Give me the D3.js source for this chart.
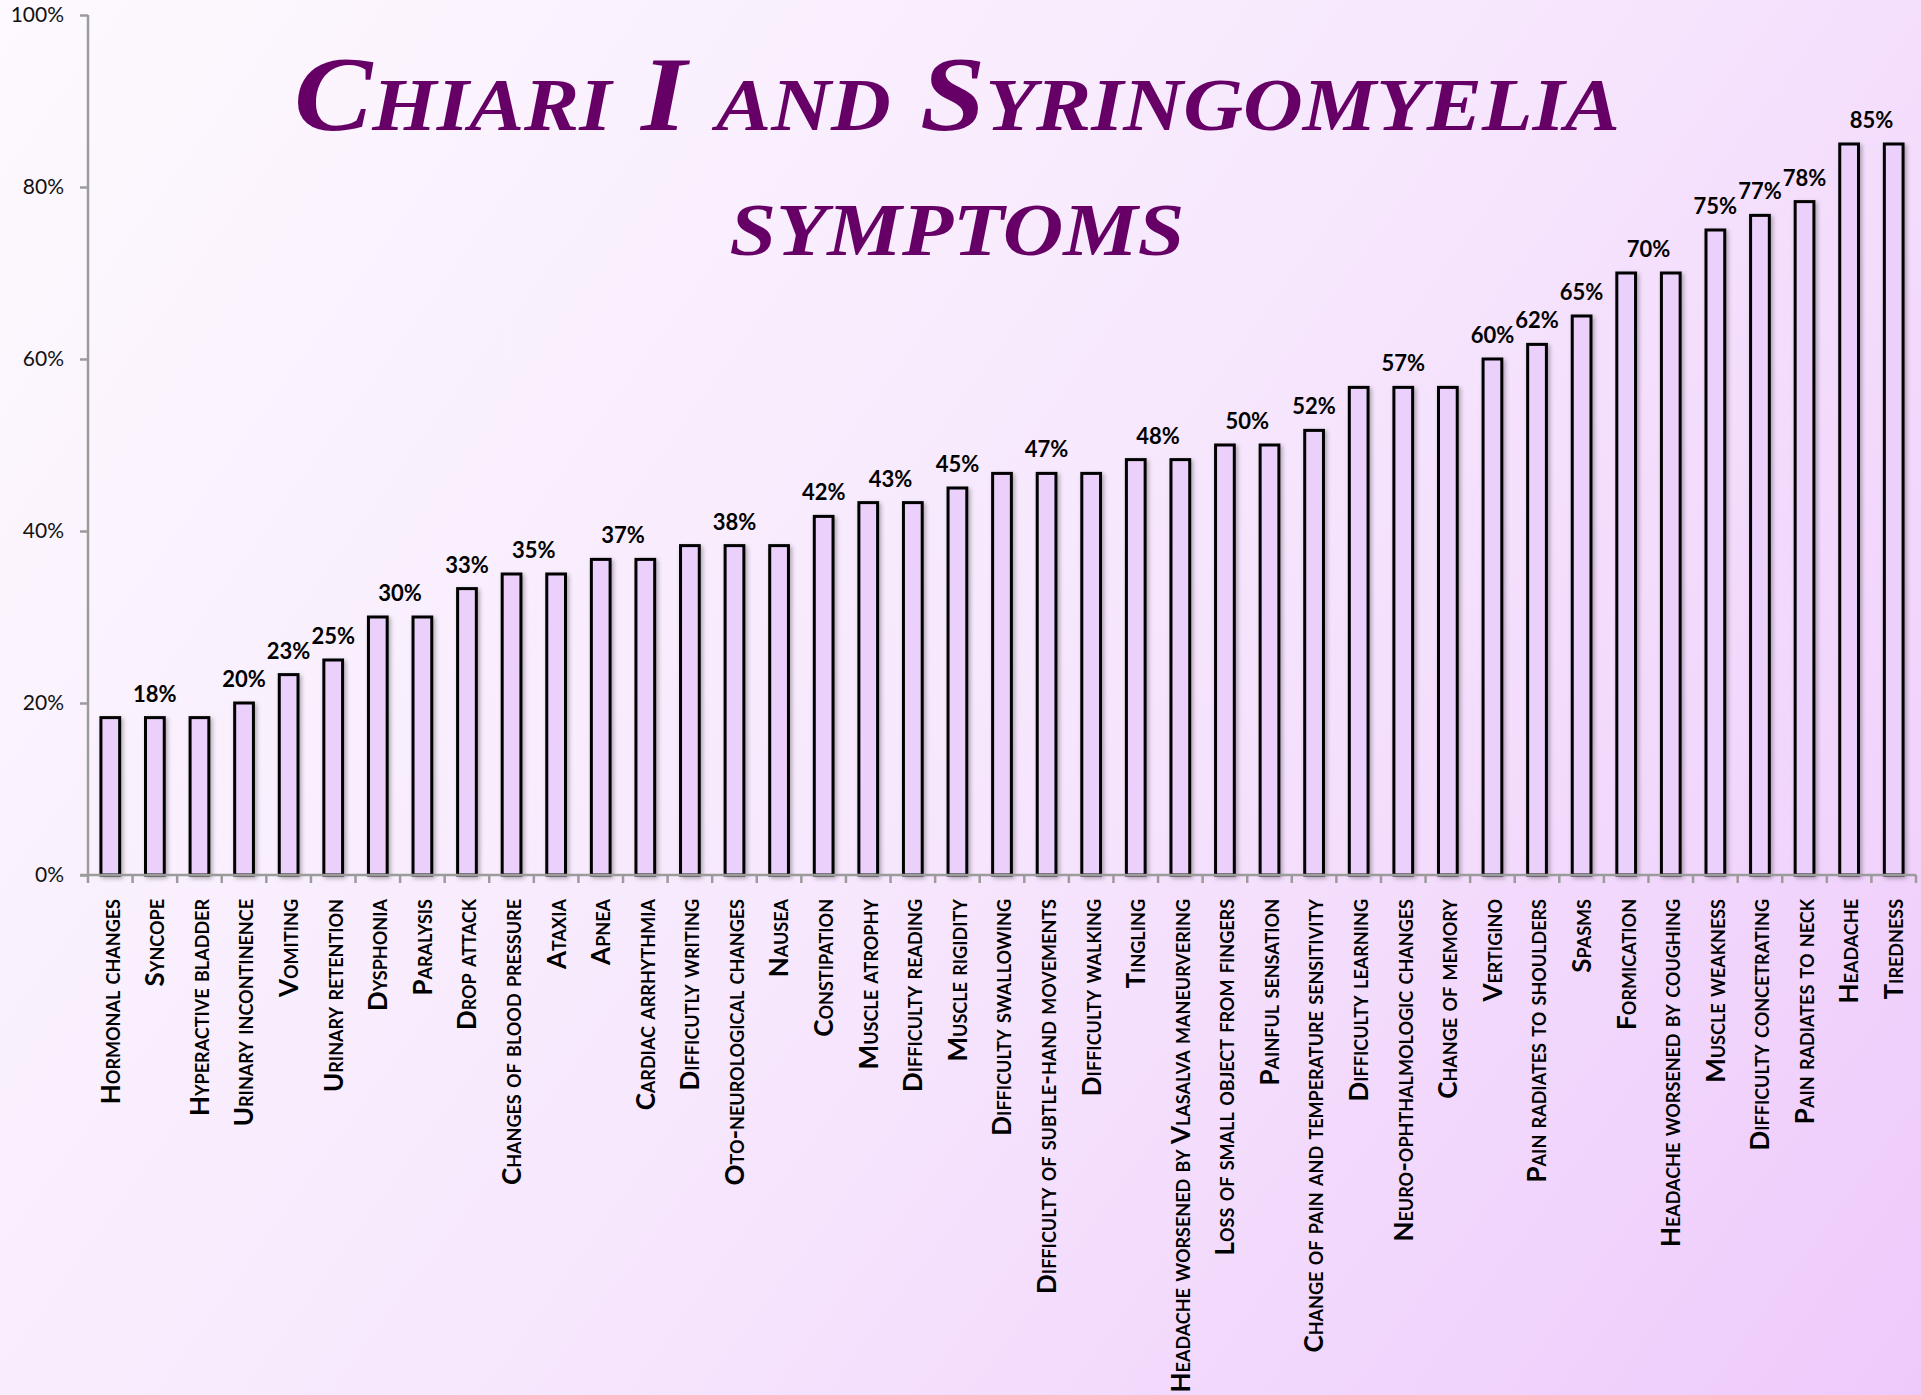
<!DOCTYPE html>
<meta charset="utf-8">
<style>
  body { margin: 0; }
  svg { display: block; }
</style>
<body>
<svg id="chart" width="1921" height="1395"></svg>
<script src="https://d3js.org/d3.v7.min.js"></script>
<script>
// chart data
const categories = [
  "Hormonal changes", "Syncope", "Hyperactive bladder", "Urinary incontinence",
  "Vomiting", "Urinary retention", "Dysphonia", "Paralysis", "Drop attack",
  "Changes of blood pressure", "Ataxia", "Apnea", "Cardiac arrhythmia",
  "Difficutly writing", "Oto-neurological changes", "Nausea", "Constipation",
  "Muscle atrophy", "Difficulty reading", "Muscle rigidity", "Difficulty swallowing",
  "Difficulty of subtle-hand movements", "Difficulty walking", "Tingling",
  "Headache worsened by Vlasalva maneurvering", "Loss of small object from fingers",
  "Painful sensation", "Change of pain and temperature sensitivity",
  "Difficulty learning", "Neuro-ophthalmologic changes", "Change of memory",
  "Vertigino", "Pain radiates to shoulders", "Spasms", "Formication",
  "Headache worsened by coughing", "Muscle weakness", "Difficulty concetrating",
  "Pain radiates to neck", "Headache", "Tiredness"
];
const values = [
  18.3, 18.3, 18.3, 20.0, 23.3, 25.0, 30.0, 30.0, 33.3, 35.0, 35.0, 36.7, 36.7,
  38.3, 38.3, 38.3, 41.7, 43.3, 43.3, 45.0, 46.7, 46.7, 46.7, 48.3, 48.3, 50.0,
  50.0, 51.7, 56.7, 56.7, 56.7, 60.0, 61.7, 65.0, 70.0, 70.0, 75.0, 76.7, 78.3,
  85.0, 85.0
];
const yTicks = [0, 20, 40, 60, 80, 100];
const titleLines = ["Chiari I and Syringomyelia", "symptoms"];

// layout
var W = 1921, H = 1395;
var margin = {left: 88, right: 1916, top: 15, bottom: 875};

var svg = d3.select("#chart");
var defs = svg.append("defs");

// background gradient
var grad = defs.append("linearGradient")
    .attr("id", "bg")
    .attr("gradientUnits", "userSpaceOnUse")
    .attr("x1", 0).attr("y1", 0).attr("x2", W).attr("y2", H);
grad.append("stop").attr("offset", 0).attr("stop-color", "#fdf9fe");
grad.append("stop").attr("offset", 0.5).attr("stop-color", "#f7e8fd");
grad.append("stop").attr("offset", 1).attr("stop-color", "#eecafb");

var shadow = defs.append("filter").attr("id", "shadow")
    .attr("x", "-50%").attr("y", "-5%").attr("width", "200%").attr("height", "110%");
shadow.append("feDropShadow")
    .attr("dx", 2).attr("dy", 2).attr("stdDeviation", 2)
    .attr("flood-color", "#000").attr("flood-opacity", 0.3);

svg.append("rect").attr("width", W).attr("height", H).attr("fill", "url(#bg)");

// scales
var x = d3.scaleBand()
    .domain(categories)
    .range([margin.left, margin.right])
    .paddingInner(0.58)
    .paddingOuter(0.29);

var y = d3.scaleLinear()
    .domain([0, 100])
    .range([margin.bottom, margin.top]);

var step = x.step();

// y axis
var yAxis = svg.append("g")
    .attr("transform", "translate(" + margin.left + ",0)")
    .call(d3.axisLeft(y).tickValues(yTicks).tickSize(8).tickPadding(16)
      .tickFormat(d => d + "%"));
yAxis.selectAll("path, line").attr("stroke", "#9b9b9b").attr("stroke-width", 2.5);
yAxis.select(".domain").attr("d", "M0," + (margin.bottom + 1) + "V" + margin.top);
yAxis.selectAll("text")
    .attr("fill", "#111")
    .style("font-family", "Lato, sans-serif")
    .style("font-size", "21px");

// bars
svg.append("g")
  .selectAll("rect")
  .data(values)
  .enter()
  .append("rect")
    .attr("x", (d, i) => x(categories[i]))
    .attr("y", d => y(d))
    .attr("width", x.bandwidth())
    .attr("height", d => y(0) - y(d))
    .attr("fill", "#ecd0fc")
    .attr("stroke", "#000")
    .attr("stroke-width", 3)
    .attr("filter", "url(#shadow)");

// x axis line and ticks at category boundaries
var xAxis = svg.append("g");
xAxis.append("line")
    .attr("x1", margin.left - 8).attr("x2", margin.right)
    .attr("y1", margin.bottom).attr("y2", margin.bottom)
    .attr("stroke", "#9b9b9b").attr("stroke-width", 2.5);
xAxis.selectAll(".tick")
  .data(d3.range(categories.length + 1))
  .enter()
  .append("line")
    .attr("x1", i => margin.left + i * step).attr("x2", i => margin.left + i * step)
    .attr("y1", margin.bottom).attr("y2", margin.bottom + 8)
    .attr("stroke", "#9b9b9b").attr("stroke-width", 2.5);

// category labels
svg.append("g")
  .selectAll("text")
  .data(categories)
  .enter()
  .append("text")
    .attr("transform", d => "translate(" + (x(d) + x.bandwidth() / 2) + ",899) rotate(-90)")
    .attr("text-anchor", "end")
    .attr("dy", "0.36em")
    .style("font-family", "Lato, sans-serif")
    .style("font-weight", "bold")
    .style("font-variant", "small-caps")
    .style("font-size", "26px")
    .attr("fill", "#000")
    .text(d => d);

// value labels, one per run of equal values, centred over the run
var groups = [];
values.forEach(function (v, i) {
  var g = groups[groups.length - 1];
  if (g && g.v === v) g.end = i;
  else groups.push({v: v, start: i, end: i});
});
svg.append("g")
  .selectAll("text")
  .data(groups)
  .enter()
  .append("text")
    .attr("x", g => (x(categories[g.start]) + x(categories[g.end])) / 2 + x.bandwidth() / 2)
    .attr("y", g => y(g.v) - 16)
    .attr("text-anchor", "middle")
    .style("font-family", "Lato, sans-serif")
    .style("font-weight", "bold")
    .style("font-size", "22px")
    .attr("fill", "#000")
    .text(g => Math.round(g.v) + "%");

// title
var titleWidths = [1326, 455];
svg.append("g")
  .selectAll("text")
  .data(titleLines)
  .enter()
  .append("text")
    .attr("x", 957)
    .attr("y", (d, i) => i === 0 ? 130 : 255)
    .attr("text-anchor", "middle")
    .attr("textLength", (d, i) => titleWidths[i])
    .attr("lengthAdjust", "spacingAndGlyphs")
    .style("font-family", "'Liberation Serif', serif")
    .style("font-style", "italic")
    .style("font-weight", "bold")
    .style("font-variant", "small-caps")
    .style("font-size", "105px")
    .attr("fill", "#660066")
    .text(d => d);
</script>
</body>
